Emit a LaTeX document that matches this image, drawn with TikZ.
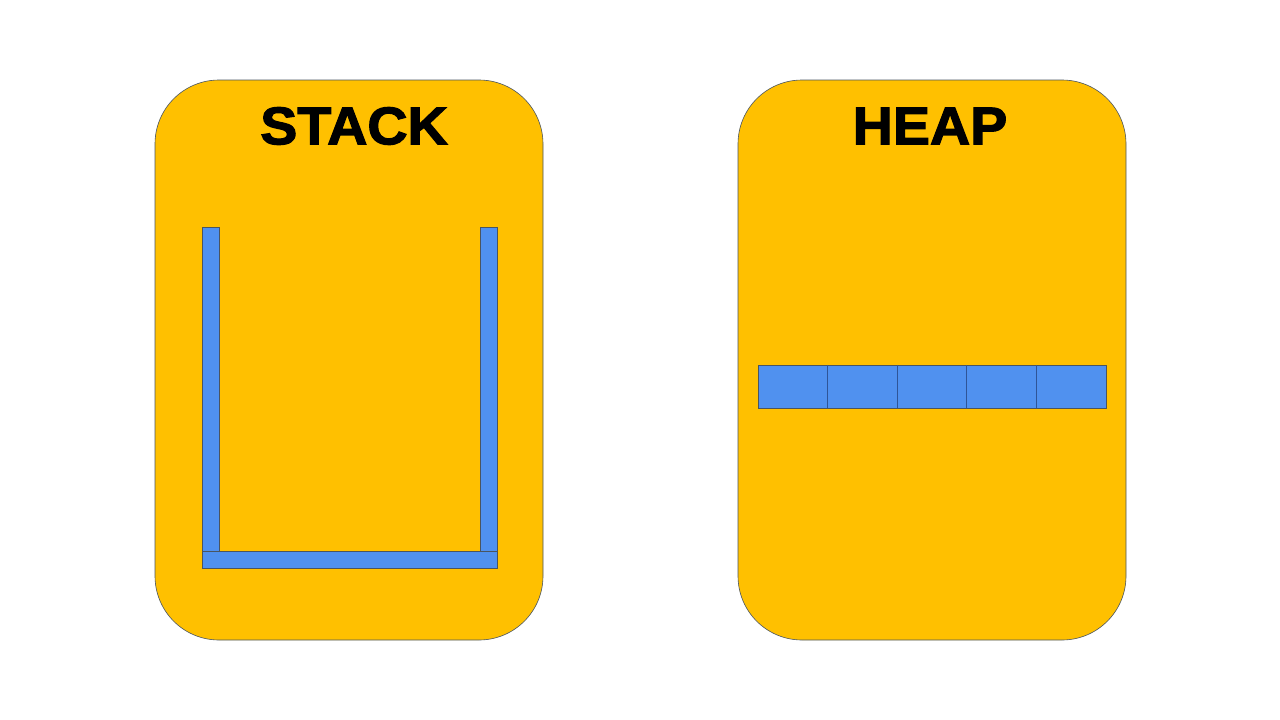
\documentclass[tikz,border=0pt]{standalone}
\usepackage{fontspec}
\setmainfont{Liberation Sans}[BoldFeatures={FakeBold=2.2,FakeStretch=1.05}]
\definecolor{boxorange}{HTML}{FFC000}
\definecolor{cellblue}{HTML}{5091EF}
\definecolor{edgegray}{HTML}{4A5560}
\definecolor{divblue}{HTML}{2F5597}
\begin{document}
\begin{tikzpicture}[x=1pt,y=-1pt,
  panel/.style={fill=boxorange,draw=edgegray,line width=0.6pt,rounded corners=64pt},
  bar/.style={fill=cellblue,draw=edgegray,line width=0.8pt},
  title/.style={font=\fontsize{53}{60}\selectfont\bfseries,text=black,inner sep=0pt,anchor=center}]
\useasboundingbox (0,0) rectangle (1280,720);
% panels
\draw[panel] (155,80) rectangle (543,640);
\draw[panel] (738,80) rectangle (1126,640);
\node[title] (stack) at (354,126) {STACK};
\node[title] (heap) at (930,126) {HEAP};
% stack container
\draw[bar] (202,227) rectangle (219,551);
\draw[bar] (480,227) rectangle (497,551);
\draw[bar] (202,551) rectangle (497,568);
% heap cells
\draw[bar] (758,365) rectangle (1106,408);
\foreach \x in {827.6,897.2,966.8,1036.4}
  \draw[divblue,line width=0.8pt] (\x,365) -- (\x,408);
\end{tikzpicture}
\end{document}
